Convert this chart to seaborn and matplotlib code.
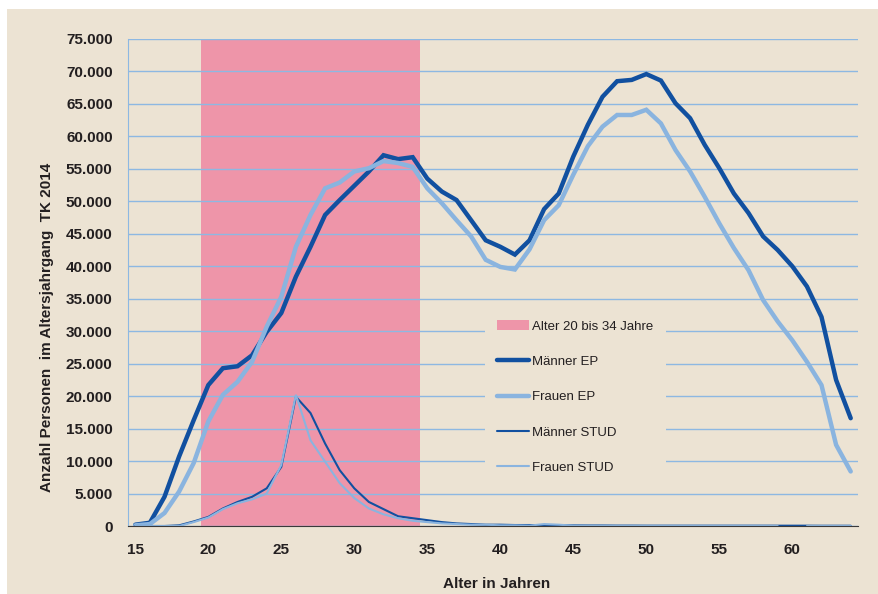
import numpy as np
import pandas as pd
import seaborn as sns
import matplotlib.pyplot as plt
from matplotlib.patches import Patch, Rectangle
from matplotlib.ticker import FuncFormatter

# Altersjahre 15 bis 64
ages = list(range(15, 65))

maenner_ep = [200, 500, 4500, 10700, 16300, 21700, 24300, 24600, 26300, 29900,
              32800, 38400, 43000, 47900, 50200, 52400, 54600, 57100, 56500, 56800,
              53500, 51500, 50200, 47100, 44000, 43000, 41800, 44000, 48800, 51200,
              56900, 61800, 66100, 68500, 68700, 69600, 68600, 65100, 62800, 58700,
              55100, 51200, 48200, 44600, 42500, 40000, 36900, 32200, 22500, 16600]

frauen_ep = [100, 300, 2000, 5300, 9700, 16100, 20200, 22200, 25300, 30700,
             35300, 43000, 47900, 52000, 52900, 54600, 55100, 56200, 55900, 55300,
             52000, 49700, 47100, 44600, 41000, 39900, 39500, 42600, 47100, 49400,
             54100, 58500, 61500, 63300, 63300, 64100, 62000, 57900, 54600, 50700,
             46600, 42800, 39400, 34800, 31500, 28600, 25300, 21700, 12500, 8400]

maenner_stud = [0, 0, 0, 100, 700, 1400, 2700, 3700, 4500, 5800,
                9100, 19900, 17400, 12700, 8600, 5800, 3700, 2600, 1500, 1200,
                900, 600, 400, 300, 200, 200, 150, 150, 100, 100,
                100, 80, 80, 60, 60, 50, 50, 50, 50, 50,
                50, 50, 50, 50, 50, 50, 50, 40, 40, 40]

# bei 60 fehlt der Wert (Lücke in der Linie)
frauen_stud = [0, 0, 0, 0, 600, 1300, 2600, 3500, 4100, 5000,
               9400, 20200, 13200, 9900, 6600, 4300, 2700, 1800, 1200, 800,
               600, 400, 300, 200, 200, 100, 100, 50, 300, 200,
               50, 30, 30, 20, 20, 20, 20, 20, 20, 20,
               20, 20, 20, 20, 0, np.nan, 0, 0, 0, 0]

series = {
    'Männer EP': maenner_ep,
    'Frauen EP': frauen_ep,
    'Männer STUD': maenner_stud,
    'Frauen STUD': frauen_stud,
}

bg = '#ECE3D3'
pink = '#EE95A9'
dark = '#1150A0'
light = '#8AB4DF'
grid_c = '#8DB8E2'
txt = '#231F20'

sns.set_style('white')
plt.rcParams['font.family'] = ['Liberation Sans', 'DejaVu Sans']

fig = plt.figure(figsize=(8.79, 5.94), dpi=100)
fig.patch.set_facecolor('white')
fig.patches.append(Rectangle((7 / 879, 0), 1, 1 - 9 / 594, transform=fig.transFigure,
                             facecolor=bg, edgecolor='none', zorder=-10))
ax = fig.add_axes([128 / 879, 68 / 594, 730 / 879, 487 / 594])
ax.set_facecolor(bg)

# Altersbereich 20 bis 34
ax.axvspan(19.5, 34.5, color=pink, lw=0, zorder=1)

styles = {
    'Männer EP': (dark, 3.2),
    'Frauen EP': (light, 3.2),
    'Männer STUD': (dark, 1.5),
    'Frauen STUD': (light, 1.5),
}
handles = [Patch(facecolor=pink, edgecolor='none', label='Alter 20 bis 34 Jahre')]
for name, vals in series.items():
    col, lw = styles[name]
    df = pd.DataFrame({'age': ages, 'n': vals})
    # Segmente an fehlenden Werten trennen
    df['seg'] = df['n'].isna().cumsum()
    df = df.dropna()
    sns.lineplot(data=df, x='age', y='n', units='seg', estimator=None, color=col,
                 lw=lw, ax=ax, zorder=3, solid_joinstyle='miter', legend=False)
    handles.append(plt.Line2D([], [], color=col, lw=lw, label=name))

ax.set_xlim(14.5, 64.5)
ax.set_ylim(0, 75000)
ax.set_yticks(range(0, 75001, 5000))
ax.yaxis.set_major_formatter(FuncFormatter(lambda v, p: f'{int(v):,}'.replace(',', '.')))
ax.set_xticks(range(15, 65, 5))
ax.set_xticks(np.arange(14.5, 65, 1), minor=True)
ax.grid(axis='y', color=grid_c, lw=1, zorder=2)
ax.set_axisbelow(False)

for s in ['top', 'right']:
    ax.spines[s].set_visible(False)
ax.spines['left'].set_color(grid_c)
ax.spines['bottom'].set_color('#3a3a3a')
ax.spines['bottom'].set_zorder(4)

ax.tick_params(axis='y', direction='out', length=4, color=grid_c, pad=7,
               labelsize=11, labelcolor=txt)
ax.tick_params(axis='x', which='major', length=0, pad=12, labelsize=11, labelcolor=txt)
ax.tick_params(axis='x', which='minor', direction='out', length=4, color='#3a3a3a')
for lab in ax.get_xticklabels() + ax.get_yticklabels():
    lab.set_fontweight('bold')

ax.set_xlabel('Alter in Jahren', fontsize=11, fontweight='bold', color=txt)
ax.set_ylabel('Anzahl Personen  im Altersjahrgang  TK 2014', fontsize=11,
              fontweight='bold', color=txt)
ax.xaxis.set_label_coords(0.505, -0.105)
ax.yaxis.set_label_coords(-0.101, 0.407)

leg = ax.legend(handles=handles, loc='upper left', bbox_to_anchor=(0.48, 0.46),
                frameon=True, facecolor=bg, edgecolor='none', framealpha=1,
                fontsize=9.5, handlelength=2.4, handletextpad=0.3,
                labelspacing=1.75, borderpad=0.9)
leg.set_zorder(5)
for t in leg.get_texts():
    t.set_color(txt)

fig.savefig('out.png', dpi=100)
